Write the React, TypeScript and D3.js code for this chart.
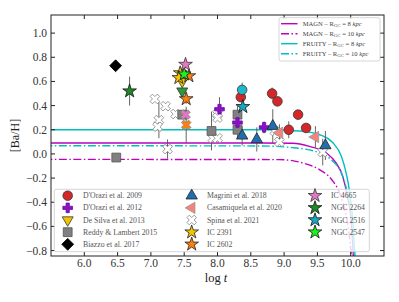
import React from "react";
import * as d3 from "d3";

// log t ticks and [Ba/H] ticks
const xTicks = [6.0, 6.5, 7.0, 7.5, 8.0, 8.5, 9.0, 9.5, 10.0];
const yTicks = [-0.8, -0.6, -0.4, -0.2, 0.0, 0.2, 0.4, 0.6, 0.8, 1.0];

// model curves: [log t, [Ba/H]]
const magn8 = [[5.4, 0.09], [8.63, 0.09], [9.13, 0.088], [9.38, 0.062], [9.63, 0.01], [9.78, -0.075], [9.88, -0.185], [9.95, -0.35], [10.01, -0.57], [10.045, -0.9]];
const magn10 = [[5.4, -0.045], [8.93, -0.047], [9.28, -0.075], [9.53, -0.13], [9.71, -0.21], [9.83, -0.32], [9.91, -0.46], [9.97, -0.63], [10.02, -0.9]];
const fruity8 = [[5.4, 0.2], [8.63, 0.2], [9.23, 0.19], [9.58, 0.15], [9.73, 0.094], [9.86, -0.02], [9.93, -0.155], [9.98, -0.3], [10.03, -0.54], [10.07, -0.9]];
const fruity10 = [[5.4, 0.068], [8.63, 0.066], [9.13, 0.052], [9.53, 0.01], [9.73, -0.06], [9.86, -0.157], [9.94, -0.3], [10.01, -0.54], [10.055, -0.9]];

// observations: [log t, [Ba/H], error]
const dorazi2009 = [[8.35, 0.47, 0], [8.82, 0.5, 0.05], [8.9, 0.435, 0], [9.21, 0.325, 0], [9.07, 0.2, 0.07], [9.33, 0.215, 0]];
const dorazi2009b = [[8.37, 0.53, 0.06]];
const dorazi2012 = [[8.03, 0.37, 0.1], [8.3, 0.26, 0.05], [8.7, 0.22, 0.05]];
const desilva2013 = [[7.47, 0.6, 0]];
const desilva2013b = [[7.47, 0.52, 0]];
const reddy2015 = [[6.48, -0.03, 0.03], [7.47, 0.325, 0], [7.91, 0.19, 0.16], [8.3, 0.325, 0.07], [8.3, 0.2, 0.07]];
const biazzo2017 = [[6.47, 0.73, 0]];
const magrini2018 = [[8.37, 0.15, 0.08], [8.59, 0.12, 0.1], [8.83, 0.23, 0.14], [9.62, 0.07, 0.12]];
const casamiquela2020 = [[8.93, 0.175, 0.07], [9.47, 0.14, 0.09]];
const spina2021 = [[7.06, 0.455, 0], [7.22, 0.395, 0], [7.12, 0.28, 0.15], [7.1, 0.225, 0], [7.37, 0.33, 0], [7.25, 0.04, 0.08], [8.0, 0.33, 0], [8.0, 0.3, 0], [7.93, 0.13, 0], [8.0, 0.13, 0], [8.86, 0.19, 0], [8.93, 0.1, 0], [9.58, 0.015, 0.11]];
const spinaIc4665 = [[7.52, 0.325, 0.04]];
const spinaIc2602 = [[7.53, 0.24, 0.15]];
const ic2391 = [[7.44, 0.67, 0], [7.42, 0.63, 0.03]];
const ic2602 = [[7.57, 0.645, 0], [7.53, 0.455, 0.04]];
const ic4665 = [[7.52, 0.74, 0.03]];
const ngc2264 = [[6.68, 0.52, 0.12]];
const ngc2516 = [[8.38, 0.39, 0]];
const ngc2547 = [[7.5, 0.66, 0]];

const W = 399, H = 302;
const L = 51, R = 384, T = 15, B = 256;
const x = d3.scaleLinear().domain([5.5, 10.5]).range([L, R]);
const y = d3.scaleLinear().domain([-0.845, 1.15]).range([B, T]);

const MAG = "#bf00bf";
const CYA = "#00bfbf";
const DASHDOT = "8,2.5,1.5,2.5";

const shapes = {
  circle: { type: d3.symbolCircle, size: 72, rot: 0 },
  plus: { type: d3.symbolCross, size: 52, rot: 0 },
  tdown: { type: d3.symbolTriangle, size: 52, rot: 180 },
  tup: { type: d3.symbolTriangle, size: 56, rot: 0 },
  tleft: { type: d3.symbolTriangle, size: 56, rot: -90 },
  square: { type: d3.symbolSquare, size: 78, rot: 0 },
  diamond: { type: d3.symbolSquare, size: 70, rot: 45 },
  xmark: { type: d3.symbolCross, size: 58, rot: 45 },
  star: { type: d3.symbolStar, size: 58, rot: 0 },
};

const series = [
  { data: spina2021, shape: "xmark", fill: "#fff", stroke: "#888" },
  { data: reddy2015, shape: "square", fill: "#808080", stroke: "#555" },
  { data: dorazi2009, shape: "circle", fill: "#d62728", stroke: "#333" },
  { data: dorazi2009b, shape: "circle", fill: "#1fb7cc", stroke: "#333" },
  { data: dorazi2012, shape: "plus", fill: "#8b10c8", stroke: "#6a0aa0" },
  { data: magrini2018, shape: "tup", fill: "#1f6fb0", stroke: "#222" },
  { data: casamiquela2020, shape: "tleft", fill: "#f4837a", stroke: "#999" },
  { data: biazzo2017, shape: "diamond", fill: "#000", stroke: "#000" },
  { data: desilva2013b, shape: "tdown", fill: "#2c9a3a", stroke: "#333" },
  { data: desilva2013, shape: "tdown", fill: "#f5c400", stroke: "#333" },
  { data: spinaIc4665, shape: "xmark", fill: "#e377c2", stroke: "#888" },
  { data: spinaIc2602, shape: "xmark", fill: "#ff7f0e", stroke: "#888" },
  { data: ic2602, shape: "star", fill: "#ff7f0e", stroke: "#222" },
  { data: ic2391, shape: "star", fill: "#f5c400", stroke: "#222" },
  { data: ngc2264, shape: "star", fill: "#1e8a24", stroke: "#111" },
  { data: ngc2516, shape: "star", fill: "#18a8c4", stroke: "#111" },
  { data: ngc2547, shape: "star", fill: "#20f020", stroke: "#111" },
  { data: ic4665, shape: "star", fill: "#e377c2", stroke: "#333" },
];

const Marker = ({ shape, fill, stroke, cx, cy }: any) => {
  const s = shapes[shape];
  const d = d3.symbol().type(s.type).size(s.size)() as string;
  return (
    <path
      d={d}
      transform={`translate(${cx},${cy}) rotate(${s.rot})`}
      fill={fill}
      stroke={stroke}
      strokeWidth={0.8}
    />
  );
};

const legendCols = [
  [
    { label: "D'Orazi et al. 2009", shape: "circle", fill: "#d62728", stroke: "#333" },
    { label: "D'Orazi et al. 2012", shape: "plus", fill: "#8b10c8", stroke: "#6a0aa0" },
    { label: "De Silva et al. 2013", shape: "tdown", fill: "#f5c400", stroke: "#333" },
    { label: "Reddy & Lambert 2015", shape: "square", fill: "#808080", stroke: "#555" },
    { label: "Biazzo et al. 2017", shape: "diamond", fill: "#000", stroke: "#000" },
  ],
  [
    { label: "Magrini et al. 2018", shape: "tup", fill: "#1f6fb0", stroke: "#222" },
    { label: "Casamiquela et al. 2020", shape: "tleft", fill: "#f4837a", stroke: "#999" },
    { label: "Spina et al. 2021", shape: "xmark", fill: "#fff", stroke: "#888" },
    { label: "IC 2391", shape: "star", fill: "#f5c400", stroke: "#222" },
    { label: "IC 2602", shape: "star", fill: "#ff7f0e", stroke: "#222" },
  ],
  [
    { label: "IC 4665", shape: "star", fill: "#e377c2", stroke: "#333" },
    { label: "NGC 2264", shape: "star", fill: "#1e8a24", stroke: "#111" },
    { label: "NGC 2516", shape: "star", fill: "#18a8c4", stroke: "#111" },
    { label: "NGC 2547", shape: "star", fill: "#20f020", stroke: "#111" },
  ],
];
const colX = [[67.7, 83], [191.7, 207], [315, 331]];

const modelLegend = [
  { name: "MAGN", r: "8", color: MAG, dash: null },
  { name: "MAGN", r: "10", color: MAG, dash: DASHDOT },
  { name: "FRUITY", r: "8", color: CYA, dash: null },
  { name: "FRUITY", r: "10", color: CYA, dash: DASHDOT },
];

const curves = [
  { data: magn8, color: MAG, dash: null },
  { data: magn10, color: MAG, dash: DASHDOT },
  { data: fruity8, color: CYA, dash: null },
  { data: fruity10, color: CYA, dash: DASHDOT },
];

const fmt = (v: number) => (v < 0 ? "\u2212" : "") + Math.abs(v).toFixed(1);

export default function App() {
  const line = d3
    .line<number[]>()
    .x(d => x(d[0]))
    .y(d => y(d[1]))
    .curve(d3.curveMonotoneX);

  const font = "'Liberation Serif', 'DejaVu Serif', serif";

  return (
    <svg
      width={W}
      height={H}
      style={{ position: "absolute", left: 0, top: 0, background: "#fff" }}
      fontFamily={font}
    >
      <defs>
        <clipPath id="plot">
          <rect x={L} y={T} width={R - L} height={B - T} />
        </clipPath>
      </defs>

      <g clipPath="url(#plot)">
        {curves.map((c, i) => (
          <path
            key={i}
            d={line(c.data) as string}
            fill="none"
            stroke={c.color}
            strokeWidth={1.4}
            strokeDasharray={c.dash || undefined}
          />
        ))}

        {/* error bars */}
        {series.map((s, i) =>
          s.data
            .filter(p => p[2] > 0)
            .map((p, j) => (
              <line
                key={`e${i}-${j}`}
                x1={x(p[0])}
                x2={x(p[0])}
                y1={y(p[1] - p[2])}
                y2={y(p[1] + p[2])}
                stroke="#555"
                strokeWidth={0.9}
              />
            ))
        )}

        {series.map((s, i) =>
          s.data.map((p, j) => (
            <Marker key={`m${i}-${j}`} shape={s.shape} fill={s.fill} stroke={s.stroke} cx={x(p[0])} cy={y(p[1])} />
          ))
        )}
      </g>

      {/* frame and ticks */}
      <rect x={L} y={T} width={R - L} height={B - T} fill="none" stroke="#222" strokeWidth={1} />
      {xTicks.map(t => (
        <g key={`xt${t}`}>
          <line x1={x(t)} x2={x(t)} y1={B} y2={B - 4} stroke="#222" />
          <line x1={x(t)} x2={x(t)} y1={T} y2={T + 4} stroke="#222" />
          <text x={x(t)} y={267} textAnchor="middle" fontSize={11.5} fill="#333">
            {t.toFixed(1)}
          </text>
        </g>
      ))}
      {yTicks.map(t => (
        <g key={`yt${t}`}>
          <line x1={L} x2={L + 4} y1={y(t)} y2={y(t)} stroke="#222" />
          <line x1={R} x2={R - 4} y1={y(t)} y2={y(t)} stroke="#222" />
          <text x={47} y={y(t)} dy="0.35em" textAnchor="end" fontSize={11.5} fill="#333">
            {fmt(t)}
          </text>
        </g>
      ))}

      <text x={216} y={282} textAnchor="middle" fontSize={12.5} fill="#222">
        log <tspan fontStyle="italic">t</tspan>
      </text>
      <text transform={`translate(19,${(T + B) / 2}) rotate(-90)`} textAnchor="middle" fontSize={12} fill="#222">
        [Ba/H]
      </text>

      {/* model legend */}
      <rect x={279} y={17.7} width={101} height={43.3} rx={2} fill="#fff" fillOpacity={0.8} stroke="#ccc" strokeWidth={0.8} />
      {modelLegend.map((m, i) => {
        const yy = 23.7 + i * 10;
        return (
          <g key={`ml${i}`}>
            <line x1={281} x2={297.5} y1={yy} y2={yy} stroke={m.color} strokeWidth={1.4} strokeDasharray={m.dash || undefined} />
            <text x={302.7} y={yy} dy="0.33em" fontSize={6.6} fill="#444">
              {m.name} – R
              <tspan dy={1.5} fontSize={4.8}>GC</tspan>
              <tspan dy={-1.5}> = {m.r} </tspan>
              <tspan fontStyle="italic">kpc</tspan>
            </text>
          </g>
        );
      })}

      {/* data legend */}
      <rect x={54.3} y={189.3} width={315} height={62.4} rx={2} fill="#fff" fillOpacity={0.8} stroke="#ccc" strokeWidth={0.8} />
      {legendCols.map((col, c) =>
        col.map((e, r) => {
          const yy = 195.7 + r * 12.15;
          return (
            <g key={`lg${c}-${r}`}>
              <Marker shape={e.shape} fill={e.fill} stroke={e.stroke} cx={colX[c][0]} cy={yy} />
              <text x={colX[c][1]} y={yy} dy="0.33em" fontSize={7.8} fill="#555">
                {e.label}
              </text>
            </g>
          );
        })
      )}
    </svg>
  );
}
